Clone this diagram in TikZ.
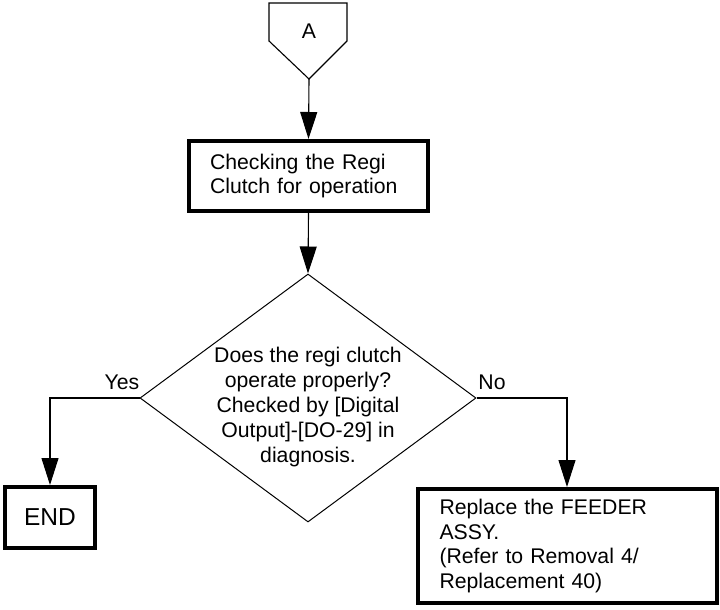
\documentclass[tikz,border=0pt]{standalone}
\usepackage{fontspec}
\setmainfont{Liberation Sans}
\usetikzlibrary{shapes.geometric,arrows.meta}
\begin{document}
\begin{tikzpicture}[x=1bp,y=-1bp,
  font=\fontsize{21.3}{24.5}\selectfont,
  thinline/.style={line width=1.1bp},
  boxnode/.style={draw, line width=4bp, rectangle, inner xsep=21bp, inner ysep=0pt, align=left},
  arr/.style={line width=1.1bp, -{Triangle[length=27bp,width=17bp]}},
  txt/.style={inner sep=0pt}]
\useasboundingbox (0,0) rectangle (720,610);
% off-page connector A
\draw[thinline] (269,3) -- (347,3) -- (347,41) -- (309,79) -- (269,41) -- cycle;
\coordinate (abot) at (309,79);
\node[txt] (alabel) at (309,31) {A};
% check box
\node[boxnode, text width=197bp, minimum height=70bp] (check) at (308.5,176)
  {Checking the Regi\\Clutch for operation};
% decision diamond
\node[diamond, draw, line width=1bp, minimum width=336bp, minimum height=248bp, inner sep=0pt] (dia) at (308,398) {};
\node[txt, align=center, font=\fontsize{21.3}{25}\selectfont] (diatext) at (308,407)
  {Does the regi clutch\\operate properly?\\Checked by [Digital\\Output]-[DO-29] in\\diagnosis.};
% END box
\node[draw, line width=4bp, minimum width=90bp, minimum height=61bp, inner sep=0pt,
  font=\fontsize{24.6}{28}\selectfont] (endbox) at (50,517.5) {END};
% replace box
\node[boxnode, inner xsep=22bp, text width=255bp, minimum height=114bp] (rep) at (567,546)
  {Replace the FEEDER\\ASSY.\\(Refer to Removal 4/\\Replacement 40)};
% labels
\node[txt] (yes) at (122,382) {Yes};
\node[txt] (no) at (492,382) {No};
% connectors
\draw[arr] (abot) -- (check.north);
\draw[arr] (check.south) -- (dia.north);
\draw[arr] (dia.west) -| (endbox.north);
\draw[arr] (dia.east) -| (rep.north);
\end{tikzpicture}
\end{document}
